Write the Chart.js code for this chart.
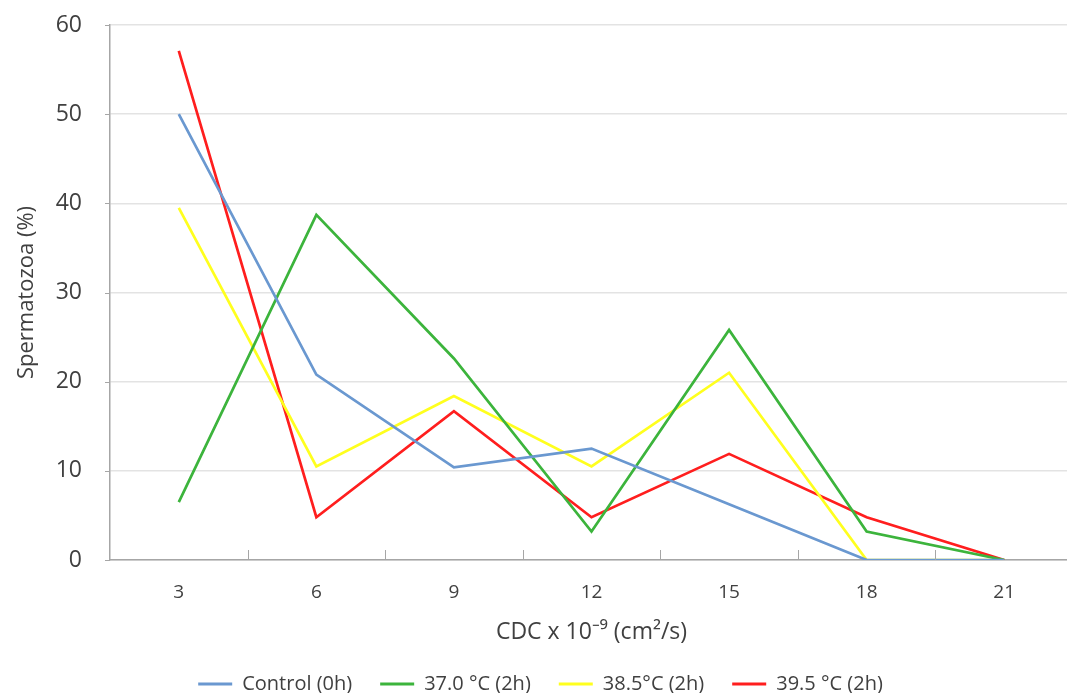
<!DOCTYPE html>
<html>
<head>
<meta charset="utf-8">
<script src="https://cdn.jsdelivr.net/npm/chart.js@4/dist/chart.umd.min.js"></script>
<style>
  html, body { margin: 0; padding: 0; background: #fff; overflow: hidden; }
  #wrap { width: 1073px; height: 693px; }
</style>
</head>
<body>
<div id="wrap"><canvas id="myChart"></canvas></div>
<script>
const cdc = ['3', '6', '9', '12', '15', '18', '21'];
const control = [50, 20.8, 10.4, 12.5, 6.25, 0, 0];
const t370 = [6.5, 38.7, 22.6, 3.2, 25.8, 3.2, 0];
const t385 = [39.5, 10.5, 18.4, 10.5, 21.0, 0, 0];
const t395 = [57.1, 4.8, 16.7, 4.8, 11.9, 4.8, 0];

const seriesNames = ['Control (0h)', '37.0 °C (2h)', '38.5°C (2h)', '39.5 °C (2h)'];
const seriesColors = ['#6a98d0', '#3cb43c', '#ffff1e', '#ff1e1e'];

const FONT = 'Open Sans';
const TEXT = '#404040';
const AXIS = '#a6a6a6';

// short tick marks: inward on the category axis (between categories), outward on the value axis
const axisTicks = {
    id: 'axisTicks',
    afterDatasetsDraw(chart) {
        const x = chart.scales.x;
        const y = chart.scales.y;
        const ctx = chart.ctx;
        const area = chart.chartArea;
        ctx.save();
        ctx.strokeStyle = AXIS;
        ctx.lineWidth = 1;
        for (let i = 1; i < cdc.length; i++) {
            const px = Math.round((x.getPixelForTick(i - 1) + x.getPixelForTick(i)) / 2) + 0.5;
            ctx.beginPath();
            ctx.moveTo(px, area.bottom);
            ctx.lineTo(px, area.bottom - 10);
            ctx.stroke();
        }
        y.ticks.forEach((t) => {
            const py = Math.round(y.getPixelForValue(t.value)) + 0.5;
            ctx.beginPath();
            ctx.moveTo(area.left - 5, py);
            ctx.lineTo(area.left, py);
            ctx.stroke();
        });
        ctx.restore();
    }
};

const datasets = [control, t370, t385, t395].map((d, i) => ({
    label: seriesNames[i],
    data: d,
    borderColor: seriesColors[i],
    backgroundColor: seriesColors[i],
    borderWidth: 2.7,
    pointRadius: 0,
    tension: 0
}));

const ctx = document.getElementById('myChart').getContext('2d');
const chart = new Chart(ctx, {
    type: 'line',
    data: { labels: cdc, datasets: datasets },
    options: {
        responsive: true,
        maintainAspectRatio: false,
        animation: false,
        layout: { padding: { top: 25, left: 8, right: 0, bottom: -11 } },
        plugins: {
            legend: {
                position: 'bottom',
                labels: {
                    color: TEXT,
                    font: { family: FONT, size: 20 },
                    boxWidth: 34,
                    boxHeight: 3,
                    padding: 28,
                    generateLabels(c) {
                        return c.data.datasets.map((ds, i) => ({
                            text: ds.label,
                            fillStyle: ds.borderColor,
                            strokeStyle: ds.borderColor,
                            lineWidth: 0,
                            fontColor: TEXT,
                            datasetIndex: i
                        }));
                    }
                }
            },
            tooltip: { enabled: false }
        },
        scales: {
            x: {
                offset: true,
                grid: { display: false, drawTicks: false },
                border: { color: AXIS, width: 1.5 },
                ticks: { color: TEXT, font: { family: FONT, size: 19 }, padding: 21 },
                title: {
                    display: true,
                    text: 'CDC x 10⁻⁹ (cm²/s)',
                    color: TEXT,
                    font: { family: FONT, size: 23 },
                    padding: { top: 10, bottom: 0 }
                },
                afterFit(scale) { scale.height = 86; }
            },
            y: {
                min: 0,
                max: 60,
                ticks: { stepSize: 10, color: TEXT, font: { family: FONT, size: 23 }, padding: 2 },
                grid: { color: '#e3e3e3', lineWidth: 1.5, tickLength: 26, tickColor: 'rgba(0,0,0,0)' },
                border: { color: AXIS, width: 1.5 },
                title: {
                    display: true,
                    text: 'Spermatozoa (%)',
                    color: TEXT,
                    font: { family: FONT, size: 22 },
                    padding: { top: 6, bottom: 0 }
                },
                afterFit(scale) { scale.width = 102; }
            }
        }
    },
    plugins: [axisTicks]
});
</script>
</body>
</html>
